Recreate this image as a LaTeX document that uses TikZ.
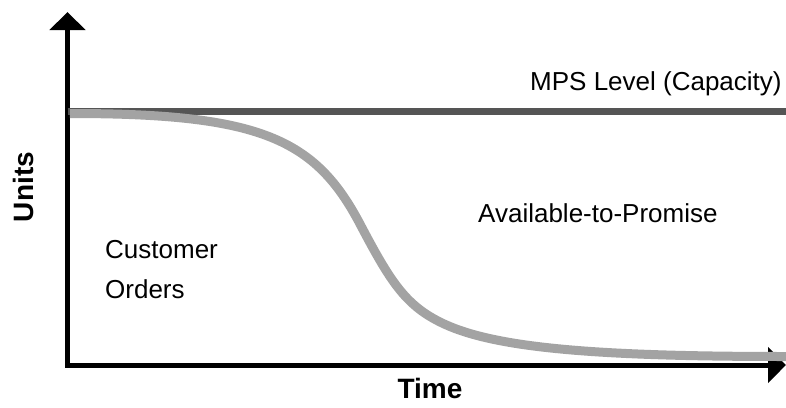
\documentclass[tikz,border=0pt]{standalone}
\usepackage{fontspec}
\setmainfont{Liberation Sans}
\usetikzlibrary{arrows.meta}
\definecolor{mpsgray}{HTML}{555555}
\definecolor{curvegray}{HTML}{A3A3A3}
\tikzset{
  axis/.style={line width=5pt, -{Triangle[width=35pt,length=18pt]}},
  lbl/.style={inner sep=0pt, font=\fontsize{26}{40}\selectfont},
  axlbl/.style={inner sep=0pt, font=\fontsize{28}{32}\selectfont\bfseries},
}
\begin{document}
\begin{tikzpicture}[x=1pt,y=-1pt]
\useasboundingbox (0,0) rectangle (786,407);
% axes
\coordinate (origin) at (67.5,365);
\coordinate (ytip) at (67.5,12);
\coordinate (xtip) at (786,365);
\draw[axis] (origin) -- (ytip);
\draw[axis] (65,365) -- (xtip);
% MPS level
\coordinate (mpsL) at (67.5,111.5);
\coordinate (mpsR) at (786,111.5);
\draw[line width=7pt, mpsgray] (mpsL) -- (mpsR);
% customer orders curve
\coordinate (c0) at (70,113.5);
\coordinate (c1) at (360,224);
\coordinate (c2) at (440,322);
\coordinate (c3) at (786,356.5);
\draw[line width=9pt, curvegray]
  (c0) .. controls (260,113.5) and (315,138.5) .. (c1)
       .. controls (390,281) and (405,304.5) .. (c2)
       .. controls (490,347) and (586,356.5) .. (c3);
% labels
\node[lbl, anchor=base west] (mps) at (530,90) {MPS Level (Capacity)};
\node[lbl, anchor=base west] (atp) at (478,222) {Available-to-Promise};
\node[lbl, anchor=north west, align=left] (co) at (105,240) {Customer\\Orders};
\node[axlbl, rotate=90, anchor=base] (units) at (33,187) {Units};
\node[axlbl, anchor=base] (time) at (430,398) {Time};
\end{tikzpicture}
\end{document}
